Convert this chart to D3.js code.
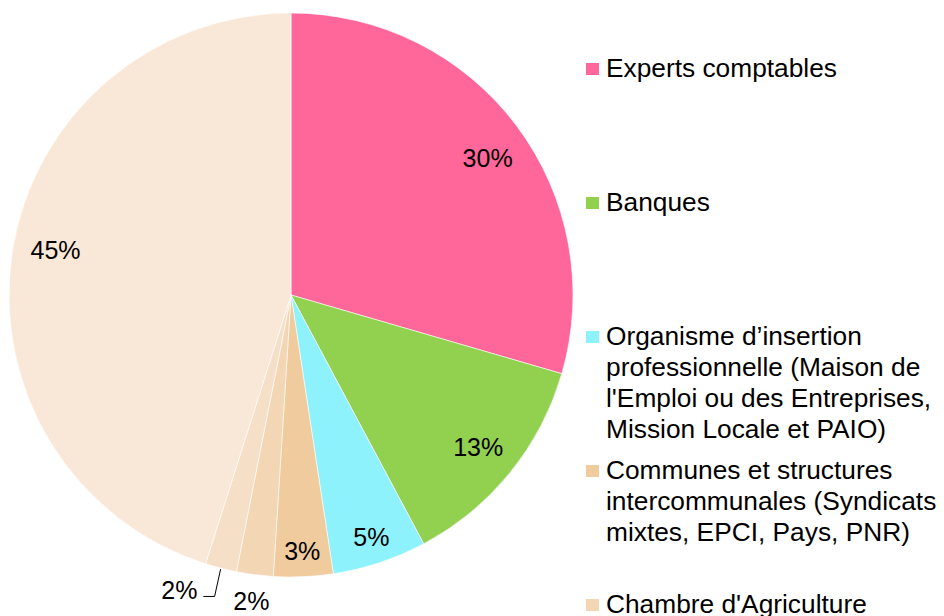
<!DOCTYPE html>
<html>
<head>
<meta charset="utf-8">
<script src="https://cdn.jsdelivr.net/npm/d3@7"></script>
<style>
  body { margin: 0; background: #fff; }
  svg { display: block; font-family: "Liberation Sans", Arial, sans-serif; }
</style>
</head>
<body>
<svg width="944" height="616"></svg>
<script>
// data
var categories = [
  "Experts comptables",
  "Banques",
  "Organisme d\u2019insertion professionnelle (Maison de l'Emploi ou des Entreprises, Mission Locale et PAIO)",
  "Communes et structures intercommunales (Syndicats mixtes, EPCI, Pays, PNR)",
  "Chambre d'Agriculture",
  "Chambre de Commerce et d'Industrie",
  "Autres"
];
var legendLines = [
  ["Experts comptables"],
  ["Banques"],
  ["Organisme d\u2019insertion", "professionnelle (Maison de", "l'Emploi ou des Entreprises,", "Mission Locale et PAIO)"],
  ["Communes et structures", "intercommunales (Syndicats", "mixtes, EPCI, Pays, PNR)"],
  ["Chambre d'Agriculture"],
  ["Chambre de Commerce et", "d'Industrie"],
  ["Autres"]
];
var values = [29.5, 12.7, 5.4, 3.4, 2.1, 1.8, 45.1];
var colours = ["#ff6699", "#92d050", "#8ef2fc", "#f0cb9d", "#f3d6b4", "#f5dfc7", "#f9e7d8"];

var svg = d3.select("svg"),
    width = +svg.attr("width"),
    height = +svg.attr("height");

svg.append("rect").attr("width", width).attr("height", height).attr("fill", "#fff");

var cx = 291, cy = 295, r = 282;

var pie = d3.pie().sort(null).value(function(d) { return d; });
var arcs = pie(values);

var arc = d3.arc().innerRadius(0).outerRadius(r);

var g = svg.append("g").attr("transform", "translate(" + cx + "," + cy + ")");

g.selectAll("path")
  .data(arcs)
  .enter()
  .append("path")
    .attr("d", arc)
    .attr("fill", function(d, i) { return colours[i]; })
    .attr("stroke", "#fff")
    .attr("stroke-width", 0.6);

// label positions (fraction of radius, small slices pushed out)
function labelPos(d, i) {
  var a = (d.startAngle + d.endAngle) / 2;
  var k = 0.855;
  if (d.value > 20) { a += 0.035; k = 0.85; }
  if (d.value < 6) k = 0.905;
  if (d.value < 4) k = 0.91;
  if (i === 4) k = 1.095;
  if (i === 5) { k = 1.12; a += 0.11; }
  return [Math.sin(a) * r * k, -Math.cos(a) * r * k];
}

g.selectAll("text.pct")
  .data(arcs)
  .enter()
  .append("text")
    .attr("class", "pct")
    .attr("x", function(d, i) { return labelPos(d, i)[0]; })
    .attr("y", function(d, i) { return labelPos(d, i)[1]; })
    .attr("text-anchor", "middle")
    .attr("dominant-baseline", "central")
    .style("font-size", "25px")
    .style("fill", "#000")
    .text(function(d) { return Math.round(d.value) + "%"; });

// leader line for the thin slice
var thin = arcs[5];
var ta = (thin.startAngle + thin.endAngle) / 2;
var p0 = [Math.sin(ta) * (r + 1), -Math.cos(ta) * (r + 1)];
var lp = labelPos(thin, 5);
g.append("path")
  .attr("d", "M" + p0[0] + "," + p0[1] + "L" + (p0[0] - 6) + "," + (lp[1] + 6) + "L" + (lp[0] + 24) + "," + (lp[1] + 6))
  .attr("fill", "none")
  .attr("stroke", "#000")
  .attr("stroke-width", 1);

// legend
var legend = svg.append("g").attr("transform", "translate(586,0)");
var step = 134, base0 = 77;

var item = legend.selectAll("g")
  .data(categories)
  .enter()
  .append("g")
    .attr("transform", function(d, i) { return "translate(0," + (base0 + step * i) + ")"; });

item.append("rect")
  .attr("x", 0)
  .attr("y", -14)
  .attr("width", 13)
  .attr("height", 12)
  .attr("fill", function(d, i) { return colours[i]; });

item.append("text")
  .attr("x", 20)
  .attr("y", 0)
  .style("font-size", "26.3px")
  .style("fill", "#000")
  .selectAll("tspan")
  .data(function(d, i) { return legendLines[i]; })
  .enter()
  .append("tspan")
    .attr("x", 20)
    .attr("dy", function(d, j) { return j === 0 ? 0 : 31; })
    .text(function(d) { return d; });
</script>
</body>
</html>
